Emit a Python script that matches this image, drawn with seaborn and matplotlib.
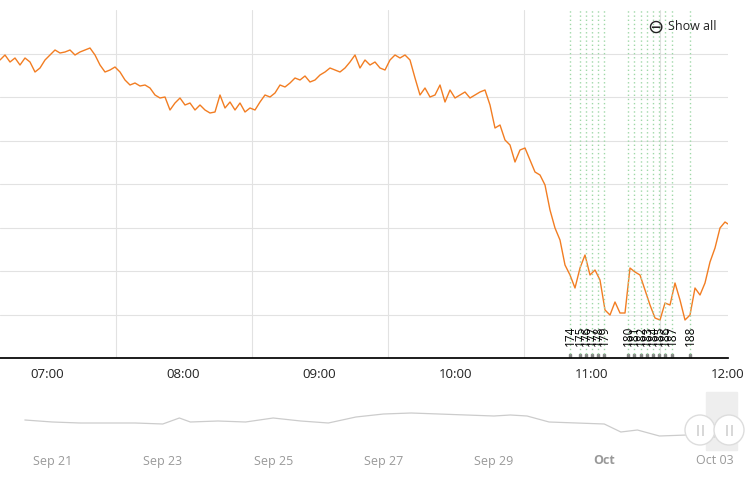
import matplotlib
matplotlib.use("Agg")
import matplotlib.pyplot as plt
import seaborn as sns
import numpy as np
import pandas as pd
from matplotlib.patches import Ellipse, Rectangle

# main series: minutes after 06:39, value
minutes = [i*5*60/136 for i in range(146)] + [728*60/136]
values = [358 - y for y in [
60,55,62,58,65,58,62,72,68,60,55,50,53,52,50,55,52,50,48,55,65,72,70,67,72,80,85,83,86,85,
88,95,98,97,110,103,98,105,103,110,105,110,113,112,95,108,102,110,103,112,108,110,102,95,97,93,85,87,83,78,
80,76,82,80,75,72,68,70,72,68,62,55,68,60,65,62,68,70,60,55,58,55,60,78,95,88,97,95,85,102,
90,98,95,92,98,95,92,90,105,128,125,140,145,162,150,148,160,172,175,185,210,228,240,265,275,288,268,255,275,270,
280,310,315,302,313,313,268,272,275,290,305,318,320,303,305,283,300,320,315,288,295,283,262,248,228,222,224]]
start_h = 6 + 39/60
hours = [start_h + m/60 for m in minutes][:len(values)]

event_ids = [174,175,176,177,178,179,180,181,182,183,184,185,186,187,188]
event_px = [570,580,586,592,598,604,628,634,641,647,653,659,665,672,690]
event_hours = [start_h + p/136 for p in event_px]

xtick_labels = ["07:00","08:00","09:00","10:00","11:00","12:00"]
xtick_hours = [7,8,9,10,11,12]

# scroller overview
days = [20.5,21,21.5,22,22.5,23,23.3,23.5,24,24.5,25,25.5,26,26.5,27,27.5,28,28.5,29,29.3,29.6,30,30.5,31,31.3,31.6,32,32.5,33]
ov = [30,28,27,27,27,26,32,28,29,28,32,29,27,33,36,37,36,35,34,35,34,28,27,26,18,20,14,15,13]
ov_labels = ["Sep 21","Sep 23","Sep 25","Sep 27","Sep 29","Oct","Oct 03"]
ov_days = [21,23,25,27,29,31,33]

sns.set_theme(style="white")
plt.rcParams['font.family'] = ['Open Sans', 'DejaVu Sans']
fig = plt.figure(figsize=(7.55,4.95), dpi=100)
W, H = 755, 495
ax = fig.add_axes([0, 1-358/H, 728/W, 348/H])
df = pd.DataFrame({"h": hours, "v": values})
sns.lineplot(data=df, x="h", y="v", ax=ax, color="#f27d22", linewidth=1.0)
xl = (start_h, start_h + 728/136)
ax.set_xlim(*xl)
ax.set_ylim(0, 348)
ax.set_yticks([43.5*k for k in range(1,8)])
ax.set_yticklabels([])
ax.set_xticks([7.5,8.5,9.5,10.5,11.5])
ax.set_xticklabels([])
ax.grid(True, color="#e2e2e2", linewidth=0.8)
ax.tick_params(axis="x", length=6, color="black", direction="out")
ax.set_xlabel(""); ax.set_ylabel("")
for s in ["top","right","left"]:
    ax.spines[s].set_visible(False)
ax.spines["bottom"].set_color("black")
for h, lab in zip(xtick_hours, xtick_labels):
    ax.text(h, -16, lab, ha="center", va="center", fontsize=9.5, color="#222222")
for eh, eid in zip(event_hours, event_ids):
    ax.axvline(eh, color="#9fd8a8", linestyle=(0,(1,2)), linewidth=1)
    ax.text(eh, 12, str(eid), rotation=90, ha="center", va="bottom", fontsize=8.5, color="black")
    ax.add_patch(Rectangle((eh-0.006, 1.5), 0.012, 3, color="#888888", clip_on=False))
fig.text(668/W, 1-27/H, "Show all", fontsize=9, va="center", color="#222222")
fig.text(655/W, 1-28/H, "⊖", fontsize=14, va="center", ha="center", color="#222222")

ax2 = fig.add_axes([0, 1-450/H, 745/W, 55/H])
sns.lineplot(x=days, y=ov, ax=ax2, color="#cccccc", linewidth=0.9)
ax2.set_xlim(20.05, 33.55)
ax2.set_ylim(0, 55)
ax2.axis("off")
ax2.add_patch(Rectangle((32.85, 0), 0.55, 58, color="#eeeeee", zorder=0, clip_on=False))
for px in [700, 729]:
    fig.patches.append(Ellipse((px/W, 1-430/H), 30/W, 30/H, transform=fig.transFigure,
                               facecolor="white", edgecolor="#dddddd", zorder=5))
    fig.text(px/W, 1-430/H, "||", ha="center", va="center", fontsize=8, color="#999999", zorder=6)
for d, lab in zip(ov_days, ov_labels):
    xpx = (d-20.05)/(33.55-20.05)*745
    fig.text(xpx/W, 1-461/H, lab, ha="center", va="center", fontsize=9,
             color="#999999", fontweight="bold" if lab=="Oct" else "normal")
fig.savefig("out.png", dpi=100)
